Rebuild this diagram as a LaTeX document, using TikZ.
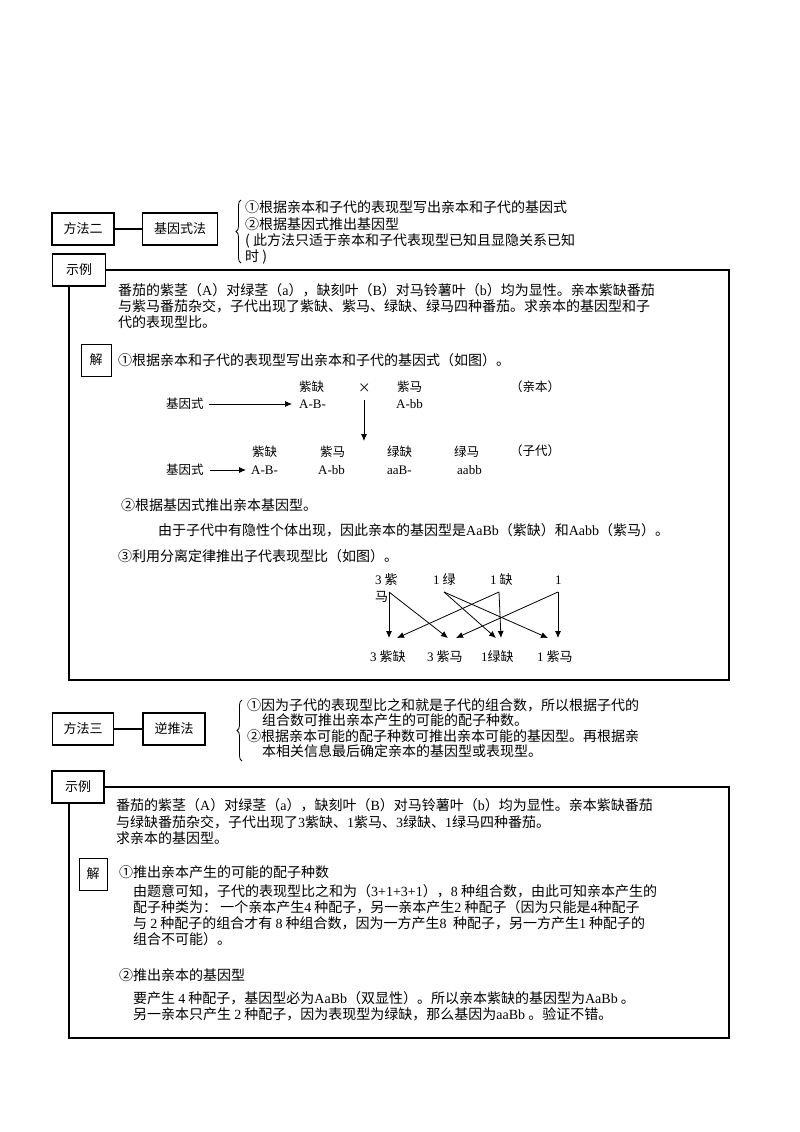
\documentclass[tikz,border=0pt]{standalone}
\usepackage{fontspec}
\setmainfont{Noto Sans CJK SC}
\newfontfamily\lat{Liberation Serif}
\usetikzlibrary{arrows.meta,decorations.pathreplacing}
\begin{document}
\begin{tikzpicture}[x=1pt,y=-1pt,
  T/.style={anchor=west,inner sep=0pt,font=\fontsize{14}{16}\selectfont},
  C/.style={anchor=west,inner sep=0pt,font=\fontsize{13}{16}\selectfont},
  S/.style={anchor=west,inner sep=0pt,font=\fontsize{12.5}{14}\selectfont},
  G/.style={anchor=west,inner sep=0pt,font=\fontsize{13}{14}\selectfont\lat},
  lbl/.style={draw,line width=1.6pt,fill=white,minimum height=32pt,inner sep=4pt,font=\fontsize{13}{15}\selectfont},
  jie/.style={draw,line width=0.8pt,fill=white,minimum width=30pt,minimum height=32pt,font=\fontsize{13}{15}\selectfont},
  br/.style={line width=0.8pt,decoration={brace,amplitude=5pt},decorate},
  ar/.style={-{Latex[length=7pt,width=6pt]},line width=0.8pt}]
\useasboundingbox (0,0) rectangle (800,1132);
% ===== method 2 =====
\node[lbl,minimum width=62pt] (m2) at (83,229) {方法二};
\node[lbl,minimum width=75pt] (m2b) at (180,229) {基因式法};
\draw[line width=1.6pt] (m2) -- (m2b);
\coordinate (bra) at (241,263); \coordinate (brb) at (241,200);
\draw[br] (bra) -- (brb);
\node[T] (b1) at (245,207) {①根据亲本和子代的表现型写出亲本和子代的基因式};
\node[T] (b2) at (245,224) {②根据基因式推出基因型};
\node[T] (b3) at (245,241) {( 此方法只适于亲本和子代表现型已知且显隐关系已知};
\node[T] (b4) at (245,257) {时 )};
\draw[line width=1.6pt] (69,270) rectangle (729,680);
\node[lbl,minimum width=53pt] (ex1) at (79,270) {示例};
\node[T] (p1) at (118,290) {番茄的紫茎（{\lat A}）对绿茎（{\lat a}），缺刻叶（{\lat B}）对马铃薯叶（{\lat b}）均为显性。亲本紫缺番茄};
\node[T] (p2) at (118,306) {与紫马番茄杂交，子代出现了紫缺、紫马、绿缺、绿马四种番茄。求亲本的基因型和子};
\node[T] (p3) at (118,322) {代的表现型比。};
\node[jie] (j1) at (96,360) {解};
\node[T] (s1) at (118,360) {①根据亲本和子代的表现型写出亲本和子代的基因式（如图）。};
% diagram 1
\node[S] (g1) at (166,404) {基因式};
\node[S] (pa) at (299,387) {紫缺};
\node[G] (pag) at (299,404) {A-B-};
\node[S] (x) at (358,388) {×};
\node[S] (pb) at (397,387) {紫马};
\node[G] (pbg) at (396,404) {A-bb};
\node[S] (qb) at (510,387) {（亲本）};
\coordinate (g1e) at (292,404);
\draw[ar] (g1.east) ++(5,0) -- (g1e);
\coordinate (va) at (364,400); \coordinate (vb) at (364,441);
\draw[ar] (va) -- (vb);
\node[S] (c1) at (252,452) {紫缺};
\node[S] (c2) at (320,452) {紫马};
\node[S] (c3) at (387,452) {绿缺};
\node[S] (c4) at (454,452) {绿马};
\node[S] (qz) at (510,451) {（子代）};
\node[S] (g2) at (166,470) {基因式};
\node[G] (d1) at (251,470) {A-B-};
\node[G] (d2) at (318,470) {A-bb};
\node[G] (d3) at (387,470) {aaB-};
\node[G] (d4) at (457,470) {aabb};
\coordinate (g2e) at (246,470);
\draw[ar] (g2.east) ++(6,0) -- (g2e);
\node[T] (s2) at (121,505) {②根据基因式推出亲本基因型。};
\node[T] (s2b) at (158,530) {由于子代中有隐性个体出现，因此亲本的基因型是{\lat AaBb}（紫缺）和{\lat Aabb}（紫马）。};
\node[T] (s3) at (118,556) {③利用分离定律推出子代表现型比（如图）。};
% cross diagram
\node[C] (t1) at (375,580) {{\lat 3} 紫};
\node[C] (t1b) at (375,597) {马};
\node[C] (t2) at (433,580) {{\lat 1} 绿};
\node[C] (t3) at (490,580) {{\lat 1} 缺};
\node[C] (t4) at (555,580) {{\lat 1}};
\coordinate (a1) at (389,592); \coordinate (a2) at (444,592);
\coordinate (a3) at (499,592); \coordinate (a4) at (558,592);
\coordinate (e1) at (389,638); \coordinate (e2) at (397,638);
\coordinate (e3) at (448,638); \coordinate (e4) at (456,638);
\coordinate (e5) at (496,638); \coordinate (e6) at (501,638);
\coordinate (e7) at (548,638); \coordinate (e8) at (558,638);
\draw[ar] (a1) -- (e1); \draw[ar] (a1) -- (e3);
\draw[ar] (a2) -- (e5); \draw[ar] (a2) -- (e7);
\draw[ar] (a3) -- (e2); \draw[ar] (a3) -- (e6);
\draw[ar] (a4) -- (e4); \draw[ar] (a4) -- (e8);
\node[C] (u1) at (370,657) {{\lat 3} 紫缺};
\node[C] (u2) at (427,657) {{\lat 3} 紫马};
\node[C] (u3) at (481,657) {{\lat 1}绿缺};
\node[C] (u4) at (537,657) {{\lat 1} 紫马};
% ===== method 3 =====
\node[lbl,minimum width=61pt] (m3) at (83,729) {方法三};
\node[lbl,minimum width=62pt] (m3b) at (174,729) {逆推法};
\draw[line width=1.6pt] (m3) -- (m3b);
\coordinate (brc) at (242,761); \coordinate (brd) at (242,700);
\draw[br] (brc) -- (brd);
\node[T] (r1) at (247,705) {①因为子代的表现型比之和就是子代的组合数，所以根据子代的};
\node[T] (r2) at (262,720) {组合数可推出亲本产生的可能的配子种数。};
\node[T] (r3) at (247,736) {②根据亲本可能的配子种数可推出亲本可能的基因型。再根据亲};
\node[T] (r4) at (262,751) {本相关信息最后确定亲本的基因型或表现型。};
\draw[line width=1.6pt] (69,787) rectangle (729,1038);
\node[lbl,minimum width=52pt] (ex2) at (78,787) {示例};
\node[T] (q1) at (116,805) {番茄的紫茎（{\lat A}）对绿茎（{\lat a}），缺刻叶（{\lat B}）对马铃薯叶（{\lat b}）均为显性。亲本紫缺番茄};
\node[T] (q2) at (116,822) {与绿缺番茄杂交，子代出现了{\lat 3}紫缺、{\lat 1}紫马、{\lat 3}绿缺、{\lat 1}绿马四种番茄。};
\node[T] (q3) at (116,838) {求亲本的基因型。};
\node[jie,minimum width=28pt] (j2) at (93,874) {解};
\node[T] (v1) at (119,872) {①推出亲本产生的可能的配子种数};
\node[T] (v2) at (133,891) {由题意可知，子代的表现型比之和为（{\lat 3+1+3+1}），{\lat 8} 种组合数，由此可知亲本产生的};
\node[T] (v3) at (133,907) {配子种类为：\ 一个亲本产生{\lat 4} 种配子，另一亲本产生{\lat 2} 种配子（因为只能是{\lat 4}种配子};
\node[T] (v4) at (133,923) {与 {\lat 2} 种配子的组合才有 {\lat 8} 种组合数，因为一方产生{\lat 8}\ \ 种配子，另一方产生{\lat 1} 种配子的};
\node[T] (v5) at (133,939) {组合不可能）。};
\node[T] (w1) at (119,975) {②推出亲本的基因型};
\node[T] (w2) at (133,998) {要产生 {\lat 4} 种配子，基因型必为{\lat AaBb}（双显性）。所以亲本紫缺的基因型为{\lat AaBb} 。};
\node[T] (w3) at (133,1014) {另一亲本只产生 {\lat 2} 种配子，因为表现型为绿缺，那么基因为{\lat aaBb} 。验证不错。};
\end{tikzpicture}
\end{document}
